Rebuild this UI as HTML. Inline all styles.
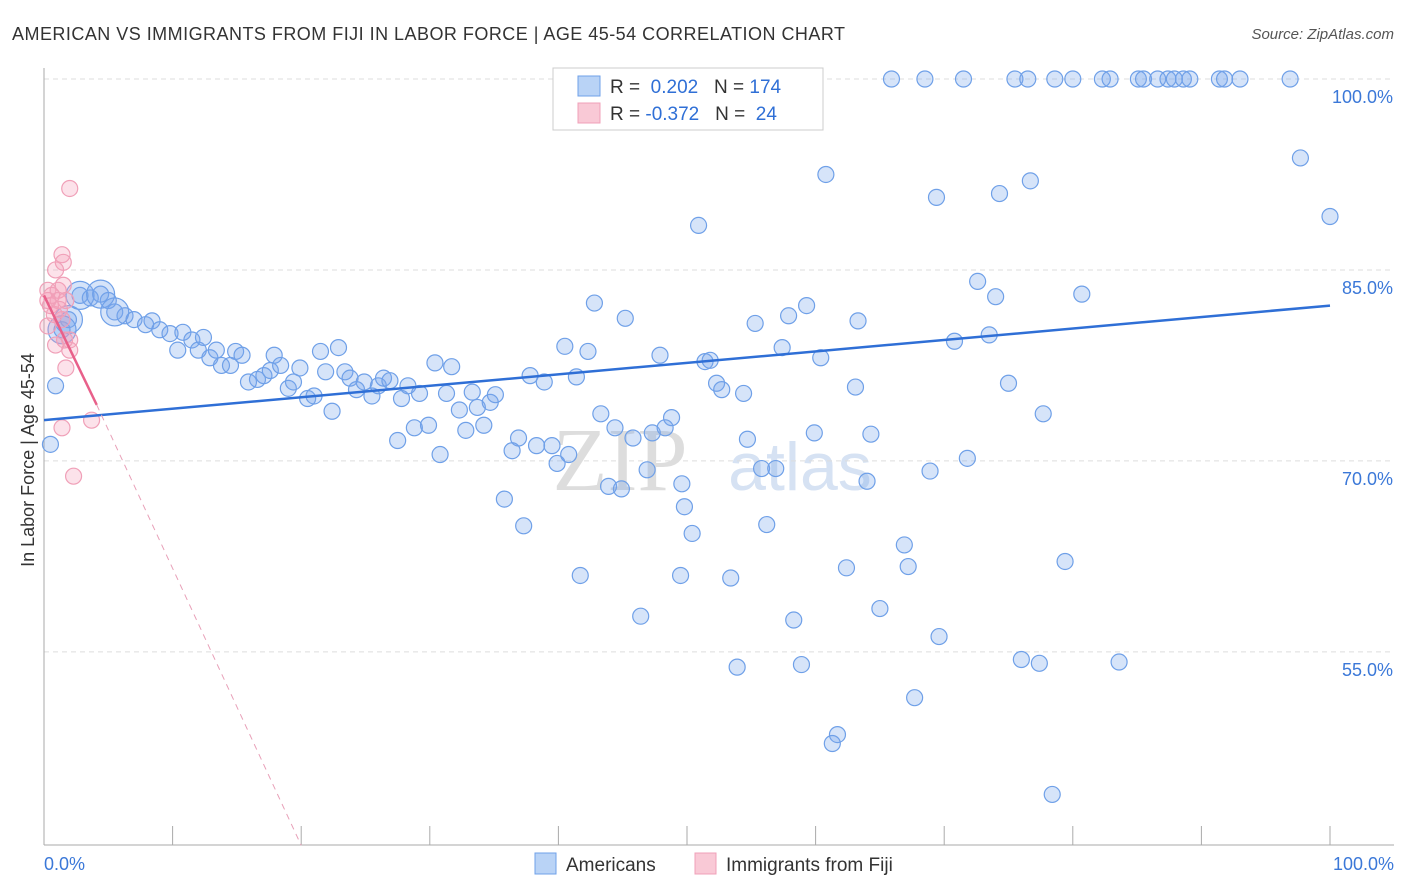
<!DOCTYPE html>
<html><head><meta charset="utf-8">
<style>
body{margin:0;background:#fff;font-family:"Liberation Sans",sans-serif;}
#wrap{position:relative;width:1406px;height:892px;overflow:hidden;}
</style></head>
<body>
<div id="wrap">
<svg id="svg" width="1406" height="892" xmlns="http://www.w3.org/2000/svg">
<text x="12" y="40" font-size="18" fill="#333" textLength="833" lengthAdjust="spacing">AMERICAN VS IMMIGRANTS FROM FIJI IN LABOR FORCE | AGE 45-54 CORRELATION CHART</text>
<text x="1394" y="39" font-size="15" fill="#555" text-anchor="end" font-style="italic">Source: ZipAtlas.com</text>
<text x="34" y="460" font-size="18" fill="#333" text-anchor="middle" transform="rotate(-90 34 460)">In Labor Force | Age 45-54</text>
<text x="620" y="490" font-size="90" fill="#ddd" font-family="Liberation Serif" text-anchor="middle">ZIP</text>
<text x="800" y="490" font-size="68" fill="#d6e2f3" text-anchor="middle">atlas</text>
<g id="grid"></g><g id="axes"></g><g id="pts"></g><g id="trend"></g>
<g>
<rect x="553" y="68" width="270" height="62" fill="#fff" stroke="#ccc"/>
<rect x="578" y="76" width="22" height="20" fill="#b9d3f6" stroke="#6fa0e8"/>
<rect x="578" y="103" width="22" height="20" fill="#f9c9d6" stroke="#f0a0b8"/>
<text x="610" y="93" font-size="19" fill="#333">R = <tspan fill="#2f6fd6">&#160;0.202</tspan>&#160;&#160;&#160;N = <tspan fill="#2f6fd6">174</tspan></text>
<text x="610" y="120" font-size="19" fill="#333">R = <tspan fill="#2f6fd6">-0.372</tspan>&#160;&#160;&#160;N = <tspan fill="#2f6fd6">&#160;24</tspan></text>
</g>
<g>
<rect x="535" y="853" width="21" height="21" fill="#b9d3f6" stroke="#6fa0e8"/>
<text x="566" y="871" font-size="19" fill="#333">Americans</text>
<rect x="695" y="853" width="21" height="21" fill="#f9c9d6" stroke="#f0a0b8"/>
<text x="726" y="871" font-size="19" fill="#333">Immigrants from Fiji</text>
</g>
</svg>
</div>
<script>
const yTicks=[100,85,70,55];
const yTickLabels=["100.0%","85.0%","70.0%","55.0%"];
const xTickLabels=["0.0%","100.0%"];
const blueX=[65.9,68.5,71.5,75.5,76.5,78.6,80.0,82.3,82.9,85.1,85.5,86.6,87.4,87.9,88.6,89.1,91.4,91.8,93.0,96.9,
97.7,100,60.8,69.4,74.3,76.7,50.9,72.6,74.0,80.7,42.8,45.2,55.3,57.9,59.3,63.3,70.8,73.5,40.5,42.3,47.9,51.4,51.8,57.4,60.4,37.8,38.9,41.4,52.3,52.7,54.4,63.1,75.0,77.7,43.3,44.4,45.8,47.3,48.8,48.3,54.7,59.9,64.3,46.9,43.9,44.9,49.6,55.8,56.9,64.0,68.9,71.8,39.9,40.8,35.8,37.3,49.8,50.4,56.2,66.9,67.2,79.4,62.4,41.7,49.5,53.4,46.4,58.3,65.0,69.6,53.9,58.9,76.0,77.4,83.6,67.7,61.7,61.3,78.4,
0.9,0.5,1.4,1.9,2.8,3.6,4.4,5.0,5.5,6.3,7.0,7.9,8.4,9.0,9.8,10.4,10.8,11.5,12.0,12.4,12.9,13.4,13.8,14.5,14.9,15.4,15.9,16.6,17.1,17.6,17.9,18.4,19.0,19.4,19.9,20.5,21.0,21.5,21.9,22.4,22.9,23.4,23.8,24.3,24.9,25.5,26.0,26.4,26.9,27.5,27.8,28.3,28.8,29.2,29.9,30.4,30.8,31.3,31.7,32.3,32.8,33.3,33.7,34.2,34.7,35.1,36.4,36.9,38.3,39.5];
const blueY=[100,100,100,100,100,100,100,100,100,100,100,100,100,100,100,100,100,100,100,100,
93.8,89.2,92.5,90.7,91.0,92.0,88.5,84.1,82.9,83.1,82.4,81.2,80.8,81.4,82.2,81.0,79.4,79.9,79.0,78.6,78.3,77.8,77.9,78.9,78.1,76.7,76.2,76.6,76.1,75.6,75.3,75.8,76.1,73.7,73.7,72.6,71.8,72.2,73.4,72.6,71.7,72.2,72.1,69.3,68.0,67.8,68.2,69.4,69.4,68.4,69.2,70.2,69.8,70.5,67.0,64.9,66.4,64.3,65.0,63.4,61.7,62.1,61.6,61.0,61.0,60.8,57.8,57.5,58.4,56.2,53.8,54.0,54.4,54.1,54.2,51.4,48.5,47.8,43.8,
75.9,71.3,80.3,81.1,83.0,82.8,83.1,82.6,81.7,81.4,81.1,80.7,81.0,80.3,80.0,78.7,80.1,79.5,78.7,79.7,78.1,78.7,77.5,77.5,78.6,78.3,76.2,76.4,76.7,77.1,78.3,77.5,75.7,76.2,77.3,74.9,75.1,78.6,77.0,73.9,78.9,77.0,76.5,75.6,76.2,75.1,75.9,76.5,76.3,71.6,74.9,75.9,72.6,75.3,72.8,77.7,70.5,75.3,77.4,74.0,72.4,75.4,74.2,72.8,74.6,75.2,70.8,71.8,71.2,71.2];
const bigX=[1.9,2.8,4.4,1.4,5.5];
const bigY=[81.1,83.0,83.1,80.3,81.7];
const pinkX=[2.0,1.4,1.5,0.9,0.3,0.6,1.1,1.7,0.5,0.8,1.4,0.3,1.6,0.9,2.0,1.7,1.4,3.7,2.3,1.1,2.0,1.2,0.3,1.5];
const pinkY=[91.4,86.2,85.6,85.0,83.4,83.0,83.4,82.6,82.2,81.5,81.1,80.6,79.5,79.1,78.7,77.3,72.6,73.2,68.8,82.6,79.5,81.9,82.6,83.8];
const blueTrend=[[0,73.2],[100,82.2]];
const pinkTrendSolid=[[0,83.0],[4.1,74.4]];
const pinkTrendDash=[[4.1,74.4],[20,39.8]];

const X=v=>44+v*12.86, Y=v=>79+(100-v)*12.73;
const NS="http://www.w3.org/2000/svg";
function mk(tag,attrs,parent){const e=document.createElementNS(NS,tag);for(const k in attrs)e.setAttribute(k,attrs[k]);document.getElementById(parent).appendChild(e);return e;}
yTicks.forEach((t,i)=>{
 const l=mk('line',{x1:44,x2:1394,y1:Y(t),y2:Y(t),stroke:'#ddd','stroke-dasharray':'5,4'},'grid');
 
 
 const tx=mk('text',{x:1393,y:Y(t)+24,'font-size':18,fill:'#3b78d8','text-anchor':'end'},'grid');
 tx.textContent=yTickLabels[i];
 
 
});
const ax=mk('line',{x1:44,x2:44,y1:68,y2:845,stroke:'#aaa'},'axes');


const bx=mk('line',{x1:44,x2:1394,y1:845,y2:845,stroke:'#aaa'},'axes');


for(let i=0;i<=10;i++){const t=mk('line',{x1:X(i*10),x2:X(i*10),y1:826,y2:845,stroke:'#aaa'},'axes');
 
 }
[[0,'start',44],[100,'end',1394]].forEach((d,i)=>{const t=mk('text',{x:d[2],y:870,'font-size':18,fill:'#3b78d8','text-anchor':d[1]},'axes');t.textContent=xTickLabels[i];
 
 });
blueX.forEach((x,i)=>{const c=mk('circle',{cx:X(x),cy:Y(blueY[i]),r:8,fill:'rgba(120,165,235,0.3)',stroke:'#6fa0e8','stroke-width':1.2},'pts');
 
 });
bigX.forEach((x,i)=>{const c=mk('circle',{cx:X(x),cy:Y(bigY[i]),r:14,fill:'rgba(120,165,235,0.3)',stroke:'#6fa0e8','stroke-width':1.2},'pts');
 
 });
pinkX.forEach((x,i)=>{const c=mk('circle',{cx:X(x),cy:Y(pinkY[i]),r:8,fill:'rgba(245,160,185,0.3)',stroke:'#f0a0b8','stroke-width':1.2},'pts');
 
 });
function tl(d,attrs,name){const l=mk('line',Object.assign({x1:X(d[0][0]),y1:Y(d[0][1]),x2:X(d[1][0]),y2:Y(d[1][1])},attrs),'trend');
 
 }
tl(blueTrend,{stroke:'#2f6fd6','stroke-width':2.5},'americans-trend-line');
tl(pinkTrendSolid,{stroke:'#e8608a','stroke-width':2.5},'fiji-trend-line');
tl(pinkTrendDash,{stroke:'#e8a0b8','stroke-width':1,'stroke-dasharray':'6,5'},'fiji-trend-extension');
</script>
</body></html>
